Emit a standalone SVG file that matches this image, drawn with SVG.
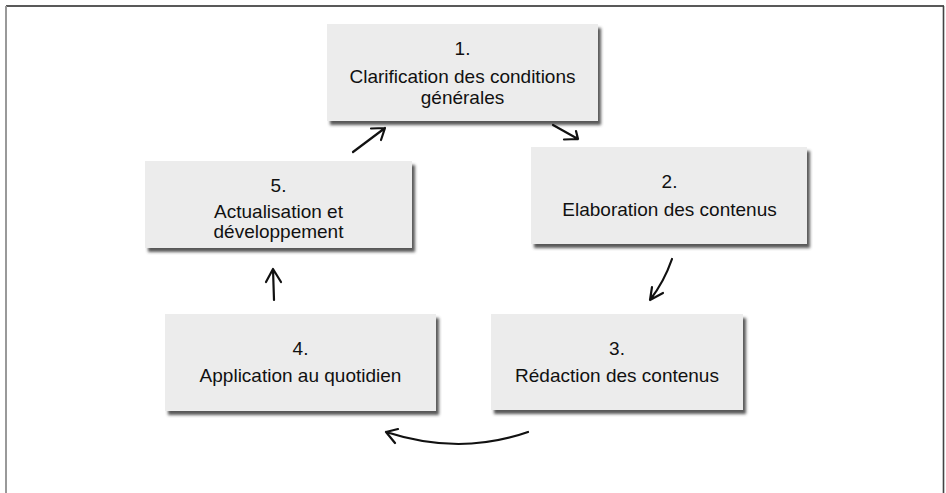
<svg xmlns="http://www.w3.org/2000/svg" width="946" height="493" viewBox="0 0 946 493">
<style>
.box{fill:#ececec;filter:url(#sh);}
.t{font-family:"Liberation Sans",Arial,sans-serif;font-size:19px;fill:#111;text-anchor:middle;}
.a{fill:none;stroke:#111;stroke-width:2.2;stroke-linecap:round;stroke-linejoin:round;}
</style>
<defs>
<filter id="sh" x="-5%" y="-5%" width="115%" height="120%">
<feDropShadow dx="3" dy="4" stdDeviation="1.5" flood-color="#444" flood-opacity="0.9"/>
</filter>
</defs>
<rect width="946" height="493" fill="#fff"/>
<g id="frame">
<line x1="6" y1="6" x2="944" y2="6" stroke="#222" stroke-width="1.6"/>
<line x1="6" y1="6" x2="6" y2="493" stroke="#999" stroke-width="2"/>
<line x1="943.5" y1="6" x2="943.5" y2="493" stroke="#444" stroke-width="1.6"/>
</g>
<g id="n1"><rect class="box" x="327" y="24" width="271" height="97"/>
<text class="t" x="462.5" y="55">1.</text>
<text class="t" x="462.5" y="83">Clarification des conditions</text>
<text class="t" x="462.5" y="104">générales</text></g>
<g id="n2"><rect class="box" x="531" y="147" width="276" height="97"/>
<text class="t" x="669.5" y="188">2.</text>
<text class="t" x="669.5" y="216">Elaboration des contenus</text></g>
<g id="n3"><rect class="box" x="491" y="314" width="252" height="96"/>
<text class="t" x="617" y="355">3.</text>
<text class="t" x="617" y="382">Rédaction des contenus</text></g>
<g id="n4"><rect class="box" x="165" y="314" width="271" height="97"/>
<text class="t" x="300.5" y="355">4.</text>
<text class="t" x="300.5" y="382">Application au quotidien</text></g>
<g id="n5"><rect class="box" x="145" y="161" width="267" height="87"/>
<text class="t" x="278.5" y="192">5.</text>
<text class="t" x="278.5" y="218">Actualisation et</text>
<text class="t" x="278.5" y="238">développement</text></g>
<g id="connectors">
<path class="a" d="M353 152 L385 128 M371 128.5 L385 128 L381 140"/>
<path class="a" d="M553 125 L578 139 M564 139.5 L578 139 L576 131"/>
<path class="a" d="M672 259 Q664 282 650 300 M652 287 L650 300 L663 293"/>
<path class="a" d="M528 432 Q460 456 386 432 M398 429 L386 432 L395 443"/>
<path class="a" d="M274 300 L273 269 M266 282 L273 269 L281 282"/>
</g>
</svg>
